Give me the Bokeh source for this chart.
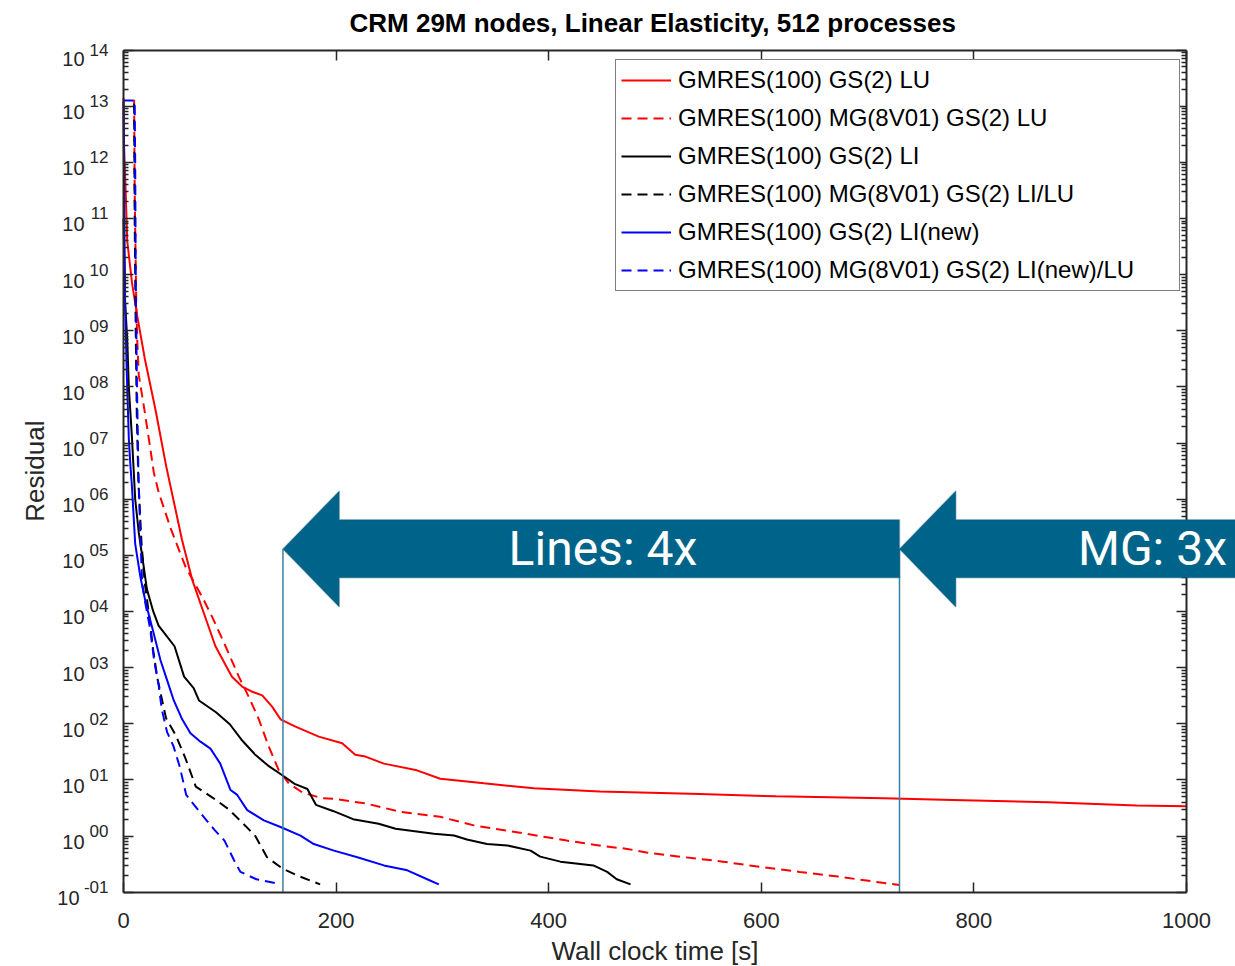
import math
from bokeh.plotting import figure
from bokeh.models import (Legend, LegendItem, Label, FixedTicker, LinearAxis,
                          LogAxis, PolyAnnotation, Range1d, ColumnDataSource)
from bokeh.core.properties import value
from bokeh.embed import file_html
from bokeh.resources import INLINE

TITLE = "CRM 29M nodes, Linear Elasticity, 512 processes"
X_LABEL = "Wall clock time [s]"
Y_LABEL = "Residual"
x_ticks = [0, 200, 400, 600, 800, 1000]
y_exponents = [-1, 0, 1, 2, 3, 4, 5, 6, 7, 8, 9, 10, 11, 12, 13, 14]
y_exponent_labels = ["-01", "00", "01", "02", "03", "04", "05", "06", "07",
                     "08", "09", "10", "11", "12", "13", "14"]

legend_labels = [
    "GMRES(100) GS(2) LU",
    "GMRES(100) MG(8V01) GS(2) LU",
    "GMRES(100) GS(2) LI",
    "GMRES(100) MG(8V01) GS(2) LI/LU",
    "GMRES(100) GS(2) LI(new)",
    "GMRES(100) MG(8V01) GS(2) LI(new)/LU",
]

# GMRES(100) GS(2) LU  (red solid)
gs_lu_t = [0, 0.5, 2, 3.5, 8, 13, 20, 30, 40, 48, 55, 64.6, 75.6, 86.5,
           102, 111.6, 120, 130.5, 140, 147.7, 161.8, 183.7, 205.7, 218, 227.6,
           245, 276, 298, 339, 386, 448, 496, 542, 614, 715, 780, 870, 953, 1000]
gs_lu_r = [1.4e13, 2.0e12, 3.2e11, 4.0e10, 7.1e9, 1.8e9, 3.2e8, 4.0e7, 4.0e6,
           7.9e5, 1.9e5, 3.7e4, 9.3e3, 2.4e3, 6.9e2, 4.6e2, 3.8e2, 3.2e2,
           2.0e2, 1.2e2, 89, 59, 45, 28, 26, 19.5, 14.8, 10.5, 8.7, 7.1, 6.2,
           5.9, 5.6, 5.1, 4.7, 4.4, 4.0, 3.5, 3.4]

# GMRES(100) MG(8V01) GS(2) LU  (red dashed)
mg_lu_t = [10, 10.5, 12, 13, 14.4, 19.1, 23.8, 28.5, 33.2, 45, 58.3, 67.7, 75.5,
           83.4, 96, 108.5, 117.9, 127.3, 136.7, 146, 155.5, 168, 187, 198, 228,
           260.6, 298, 329.5, 370, 417, 452, 474, 492, 527.7, 564, 600, 636, 672,
           722.5, 730]
mg_lu_r = [1.3e13, 3.2e11, 3.2e9, 6.3e8, 1.6e8, 4.6e7, 1.2e7, 3.0e6, 1.3e6,
           2.8e5, 6.3e4, 3.0e4, 1.6e4, 8.0e3, 2.4e3, 6.9e2, 3.0e2, 1.2e2, 39,
           15, 8.7, 6.0, 4.7, 4.6, 3.8, 2.7, 2.2, 1.55, 1.17, 0.83, 0.66, 0.59,
           0.51, 0.42, 0.35, 0.28, 0.23, 0.19, 0.14, 0.135]

# GMRES(100) GS(2) LI  (black solid)
gs_li_t = [0, 1.5, 3.5, 5, 8, 11, 14.4, 19, 22, 28, 33, 39, 48, 57, 66, 71, 87,
           100, 111, 124, 136, 147, 161, 173, 181, 197, 216, 240, 256, 292, 311,
           323, 342, 361, 383, 392, 411, 442, 455, 464, 477]
gs_li_r = [1.0e11, 3.2e9, 7.1e8, 1.0e8, 1.2e7, 1.0e6, 2.5e5, 6.3e4, 2.5e4,
           1.0e4, 5.6e3, 4.0e3, 2.4e3, 6.9e2, 4.3e2, 2.6e2, 1.6e2, 98, 52, 28,
           18, 13, 8.5, 6.9, 3.6, 2.8, 2.0, 1.66, 1.35, 1.1, 1.02, 0.87, 0.72,
           0.68, 0.55, 0.43, 0.35, 0.30, 0.23, 0.17, 0.138]

# GMRES(100) MG(8V01) GS(2) LI/LU  (black dashed)
mg_li_t = [10, 10.5, 11.5, 12.5, 14, 17, 20, 24, 28, 32, 40, 49, 58, 68, 84, 99,
           115, 124, 135, 150, 166, 185]
mg_li_r = [1.1e13, 1.0e11, 1.0e9, 3.2e7, 2.0e6, 1.6e5, 3.2e4, 8.9e3, 2.0e3,
           6.3e2, 1.26e2, 63, 25, 7.6, 4.8, 3.0, 1.5, 1.0, 0.42, 0.26, 0.19,
           0.138]

# GMRES(100) GS(2) LI(new)  (blue solid)
gs_new_t = [0, 0.8, 1.5, 3, 5, 6.5, 8, 11, 16, 21, 28.5, 34.8, 41, 47.3, 55.2,
            63, 72.4, 81.8, 91, 100.7, 107, 116.4, 132, 147.7, 166.5, 179, 198,
            220, 245, 267, 285.7, 296.6]
gs_new_r = [1.2e13, 1.0e11, 3.2e9, 2.0e8, 1.2e7, 4.0e6, 1.6e6, 1.6e5, 4.0e4,
            1.4e4, 4.0e3, 1.35e3, 6.0e2, 2.6e2, 1.2e2, 68, 48, 36, 19.5, 6.6,
            5.4, 2.9, 1.9, 1.45, 1.02, 0.72, 0.55, 0.42, 0.30, 0.245, 0.17,
            0.138]

# GMRES(100) MG(8V01) GS(2) LI(new)/LU  (blue dashed)
mg_new_t = [0, 10.5, 11, 11.5, 12.5, 14, 16, 17.5, 21, 25, 29, 33, 36, 41, 47,
            53, 59, 73, 86, 95, 104, 110, 125, 147]
mg_new_r = [1.26e13, 1.26e13, 1.0e12, 1.0e10, 1.6e8, 3.2e6, 2.0e5, 3.2e4,
            1.26e4, 5.0e3, 1.26e3, 5.0e2, 1.8e2, 71, 40, 17, 5.4, 2.5, 1.26,
            0.83, 0.37, 0.23, 0.17, 0.14]

# speed-up annotations
speedup_tips = [150, 730]
speedup_tails = [730, 1060]
speedup_labels = ["Lines: 4x", "MG: 3x"]
speedup_label_x = [451, 968]

FONT = "Liberation Sans"
AX = "#262626"
TEAL = "#00648a"

# The frame covers the canvas below the title; the data box
# (x 0..1000, y 1e-1..1e14) sits at pixels x 123..1186, y 49.5..891.7,
# and the axes are pinned to it with fixed_location / bounds.
W, H = 1235, 966
FT = 42
PX0, PX1000 = 123, 1186
PY_HI, PY_LO = 49.5, 891.7
X_LO, X_HI = 0, 1000
Y_LO, Y_HI = 1e-1, 1e14
ppx = (PX1000 - PX0) / (X_HI - X_LO)
ppd = (PY_LO - PY_HI) / (math.log10(Y_HI) - math.log10(Y_LO))
x_lo = X_LO - PX0 / ppx
x_hi = X_HI + (W - PX1000) / ppx
y_lo = 10 ** (math.log10(Y_LO) - (H - PY_LO) / ppd)
y_hi = 10 ** (math.log10(Y_HI) + (PY_HI - FT) / ppd)

p = figure(width=W, height=H, x_range=Range1d(x_lo, x_hi),
           y_range=Range1d(y_lo, y_hi), y_axis_type="log",
           x_axis_location=None, y_axis_location=None,
           output_backend="svg", toolbar_location=None,
           min_border_left=0, min_border_right=0,
           min_border_top=FT, min_border_bottom=0,
           background_fill_color="white", border_fill_color="white")
p.outline_line_color = None
p.grid.visible = False

p.title.text = TITLE
p.title.text_font = FONT
p.title.text_font_size = "26px"
p.title.text_font_style = "bold"
p.title.align = "left"
p.title.offset = 349
p.title.standoff = 10
p.title.text_color = "black"

y_major = [10.0 ** e for e in y_exponents]
y_minor = [m * 10.0 ** e for e in y_exponents[:-1] for m in range(2, 10)]
xt = FixedTicker(ticks=x_ticks, minor_ticks=[])
yt = FixedTicker(ticks=y_major, minor_ticks=y_minor)


def style_axis(ax, labels):
    ax.axis_line_color = AX
    ax.axis_line_width = 2
    ax.major_tick_line_color = AX
    ax.minor_tick_line_color = AX
    ax.major_tick_line_width = 1.5
    ax.minor_tick_line_width = 1.5
    ax.major_tick_in = 10
    ax.major_tick_out = 0
    ax.minor_tick_in = 5
    ax.minor_tick_out = 0
    ax.major_label_text_font = FONT
    ax.major_label_text_color = AX
    if not labels:
        ax.major_label_text_font_size = "1px"
        ax.major_label_text_color = None
        ax.major_label_standoff = 0


bottom = LinearAxis(ticker=xt, bounds=(X_LO, X_HI), fixed_location=Y_LO)
style_axis(bottom, True)
bottom.major_label_text_font_size = "22px"
bottom.major_label_standoff = 21
p.add_layout(bottom, "below")

top = LinearAxis(ticker=xt, bounds=(X_LO, X_HI), fixed_location=Y_HI)
style_axis(top, False)
p.add_layout(top, "above")

left = LogAxis(ticker=yt, bounds=(Y_LO, Y_HI), fixed_location=X_LO)
style_axis(left, False)
p.add_layout(left, "left")
right = LogAxis(ticker=yt, bounds=(Y_LO, Y_HI), fixed_location=X_HI)
style_axis(right, False)
p.add_layout(right, "right")

# y tick labels: "10" with a raised exponent, placed through the data scales
n = len(y_exponents)
top_k = max(y_exponents)
tick_src = ColumnDataSource(dict(
    x=[X_LO] * n, y=y_major, base=["10"] * n, exp=y_exponent_labels,
    base_dx=[-44 if s.startswith("-") else -39 for s in y_exponent_labels],
    base_dy=[9 if e == top_k else 6 for e in y_exponents],
    exp_dy=[0 if e == top_k else -5 for e in y_exponents]))
p.text(x="x", y="y", text="base", source=tick_src, x_offset="base_dx",
       y_offset="base_dy", text_align="right", text_baseline="middle",
       text_font=value(FONT), text_font_size="20px", text_color=AX)
p.text(x="x", y="y", text="exp", source=tick_src, x_offset=-15,
       y_offset="exp_dy", text_align="right", text_baseline="middle",
       text_font=value(FONT), text_font_size="17px", text_color=AX)
# axis titles
p.text(x=[X_LO], y=[math.sqrt(Y_LO * Y_HI)], text=[Y_LABEL], x_offset=-89,
       angle=math.pi / 2, text_align="center", text_baseline="middle",
       text_font=value(FONT), text_font_size="26px", text_color=AX)
p.text(x=[(X_LO + X_HI) / 2], y=[Y_LO], text=[X_LABEL], y_offset=59,
       text_align="center", text_baseline="middle",
       text_font=value(FONT), text_font_size="26px", text_color=AX)

series = [
    (gs_lu_t, gs_lu_r, "#ff0000", "solid"),
    (mg_lu_t, mg_lu_r, "#ff0000", "10 6"),
    (gs_li_t, gs_li_r, "#000000", "solid"),
    (mg_li_t, mg_li_r, "#000000", "10 6"),
    (gs_new_t, gs_new_r, "#0000ff", "solid"),
    (mg_new_t, mg_new_r, "#0000ff", "10 6"),
]
items = []
for (t, r, c, d), lab in zip(series, legend_labels):
    rr = p.line(t, r, line_color=c, line_width=2, line_dash=d)
    items.append(LegendItem(label=lab, renderers=[rr]))

# vertical marker lines and arrows
head_top, shaft_top, tip_y, shaft_bot, head_bot = 1.4e6, 4.3e5, 1.3e5, 4.0e4, 1.2e4
p.segment(x0=speedup_tips, y0=[Y_LO, Y_LO], x1=speedup_tips, y1=[tip_y, tip_y],
          line_color="#3a80a2", line_width=1.5)

head_len = 53
for tip, tail, lab, lx in zip(speedup_tips, speedup_tails, speedup_labels,
                              speedup_label_x):
    hb = tip + head_len
    xs = [tip, hb, hb, tail, tail, hb, hb]
    ys = [tip_y, head_top, shaft_top, shaft_top, shaft_bot, shaft_bot, head_bot]
    p.add_layout(PolyAnnotation(xs=xs, ys=ys, fill_color=TEAL, fill_alpha=1.0,
                                line_color="#004e6c", line_width=1.5,
                                level="overlay"))
    p.add_layout(Label(x=lx, y=tip_y, text=lab, text_align="center",
                       text_baseline="middle", text_font="Roboto",
                       text_font_size="48px", text_color="white",
                       level="overlay"))

legend = Legend(items=items, location=(615, H - 291))
legend.label_text_font = FONT
legend.label_text_font_size = "24px"
legend.label_text_color = "black"
legend.glyph_width = 50
legend.glyph_height = 30
legend.label_height = 30
legend.label_width = 496
legend.label_standoff = 7
legend.spacing = 8
legend.padding = 5
legend.margin = 0
legend.border_line_color = "black"
legend.border_line_width = 1.5
legend.background_fill_color = "white"
legend.background_fill_alpha = 1.0
p.add_layout(legend, "center")

open("out.html", "w").write(file_html(p, INLINE))
